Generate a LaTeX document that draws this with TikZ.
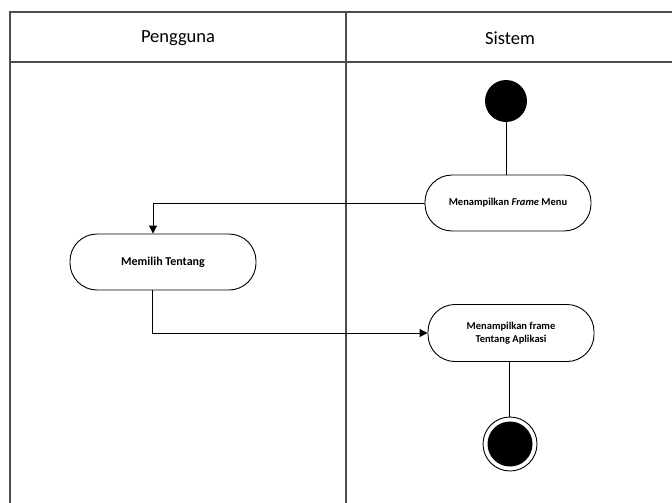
\documentclass[tikz,border=0pt]{standalone}
\usepackage{fontspec}
\setmainfont{Carlito}
\usetikzlibrary{arrows.meta}
\begin{document}
\begin{tikzpicture}[x=1pt,y=-1pt,
  lane/.style={draw=black!70,line width=1.2pt},
  head/.style={font=\fontsize{18.5}{20}\selectfont},
  action/.style={draw=black,line width=0.9pt,rounded corners=27pt,minimum width=166pt,minimum height=56pt,align=center,font=\bfseries\fontsize{10.5}{13}\selectfont},
  flow/.style={draw=black,line width=0.9pt},
  arr/.style={flow,-{Triangle[length=8pt,width=8pt]}}]
\useasboundingbox (0,0) rectangle (672,503);
% swimlane frame
\draw[lane] (672,12) -- (10,12) -- (10,503);
\draw[lane] (10,62) -- (672,62);
\draw[lane] (346,12) -- (346,503);
\node[head] (hp) at (178,38) {Pengguna};
\node[head] (hs) at (510,38) {Sistem};
% start
\node[circle,fill=black,minimum size=42pt,inner sep=0pt] (start) at (506,101) {};
% actions
\node[action] (menu) at (508,203) {Menampilkan \textit{Frame} Menu};
\node[action,minimum width=186pt,font=\bfseries\fontsize{12}{14}\selectfont] (pilih) at (163,262) {Memilih Tentang};
\node[action,minimum width=166pt,minimum height=57pt] (tentang) at (511,333) {Menampilkan frame\\Tentang Aplikasi};
% end
\node[circle,draw=black,line width=0.9pt,minimum size=54pt,inner sep=0pt] (endo) at (510,444) {};
\node[circle,fill=black,minimum size=45pt,inner sep=0pt] (endi) at (endo) {};
% connectors
\draw[flow] (start) -- (start |- menu.north);
\draw[arr] (menu.west) -| (153,0 |- pilih.north);
\draw[arr] (pilih.south -| 152,0) |- (tentang.west);
\draw[flow] (tentang.south -| 509,0) -- (endo.north -| 509,0);
\end{tikzpicture}
\end{document}
